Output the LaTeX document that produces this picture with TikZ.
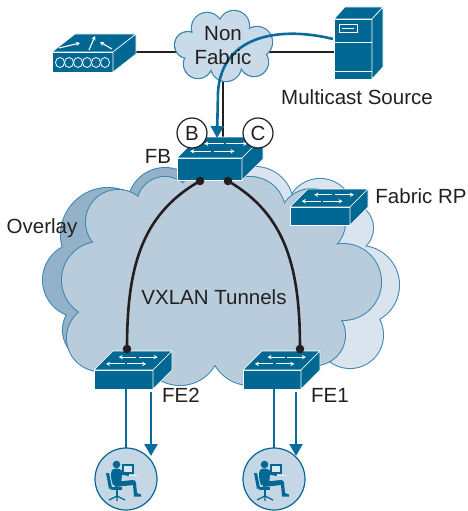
\documentclass[tikz,border=0pt]{standalone}
\usepackage{fontspec}
\setmainfont{Liberation Sans}
\usetikzlibrary{arrows.meta}

\definecolor{icon}{HTML}{006892}
\definecolor{flow}{HTML}{0A6C9C}
\definecolor{cloudedge}{HTML}{3A86B0}
\definecolor{nfFill}{HTML}{C9DAE8}
\definecolor{ovMain}{HTML}{B9CCDC}
\definecolor{ovDark}{HTML}{93B2C9}
\definecolor{ovLight}{HTML}{D9E4EE}
\definecolor{userFill}{HTML}{C5D6E4}
\definecolor{ink}{HTML}{231F20}

% cloud made of bumps: outline pass, then fill pass (fill, edge colour, edge width, bumps x/y/r, inner polygon)
\newcommand{\cloudlayer}[5]{%
  \foreach \cx/\cy/\cr in {#4} {\fill[#2] (\cx,\cy) circle[radius=\cr+#3];}
  \foreach \cx/\cy/\cr in {#4} {\fill[#1] (\cx,\cy) circle[radius=\cr];}
  \fill[#1] #5;}

% 3D icon block: front top-left corner (x,y), width, height, depth offset dx, dy
\newcommand{\iconbox}[6]{%
  \begin{scope}[shift={(#1,#2)}]
    \filldraw[boxface] (0,0) rectangle (#3,#4);
    \filldraw[boxface] (0,0) -- (#5,-#6) -- ({#3+#5},-#6) -- (#3,0) -- cycle;
    \filldraw[boxface] (#3,0) -- ({#3+#5},-#6) -- ({#3+#5},{#4-#6}) -- (#3,#4) -- cycle;
  \end{scope}}

% workgroup switch: x, y, width, height, depth
\newcommand{\ciscoswitch}[5]{%
  \iconbox{#1}{#2}{#3}{#4}{#5}{#5}
  \begin{scope}[shift={(#1,#2)}]
    \draw[toparrow] ({0.50*#3+0.68*#5},-0.68*#5) -- ({0.20*#3+0.68*#5},-0.68*#5);
    \draw[toparrow] ({0.54*#3+0.68*#5},-0.68*#5) -- ({0.86*#3+0.68*#5},-0.68*#5);
    \draw[toparrow] ({0.42*#3+0.32*#5},-0.32*#5) -- ({0.10*#3+0.32*#5},-0.32*#5);
    \draw[toparrow] ({0.46*#3+0.32*#5},-0.32*#5) -- ({0.78*#3+0.32*#5},-0.32*#5);
  \end{scope}}

% end user at a workstation, centred at (x,y)
\newcommand{\usericon}[2]{%
  \begin{scope}[shift={(#1,#2)}]
    \filldraw[fill=userFill, draw=icon, line width=1.2pt] (0,0) circle (31);
    \fill[icon] (-4,-15) rectangle (8,-5);
    \fill[userFill!60!white] (-2.2,-13.3) rectangle (6.3,-6.7);
    \fill[icon] (1,-5) rectangle (3,-3.5);
    \draw[white, line width=0.8pt, dash pattern=on 1.5pt off 1pt] (-7,-3.2) -- (12,-3.2);
    \fill[icon] (-9.5,-14.5) circle (3.8);
    \fill[icon] (-14,-9) .. controls (-12,-11) and (-7,-11) .. (-5,-9) -- (2,-5) -- (3,-3)
      -- (-4,-4) -- (-5,5) -- (-13,6) .. controls (-15,0) and (-16,-5) .. cycle;
    \fill[icon] (-12,3) -- (7,1) .. controls (9,1) and (10,2) .. (10,4) -- (11,14)
      -- (15,15.5) -- (15,17.5) -- (8,17.5) -- (7,6) -- (-11,8) -- cycle;
    \fill[icon] (-15,8) rectangle (-4,10.5);
    \fill[icon] (-20,-6) -- (-17,-6) -- (-14,9) -- (-17,10) -- cycle;
    \draw[icon, line width=1.5pt] (-9,10) -- (-9,17);
    \draw[icon, line width=1.2pt] (-17,21) -- (-9,17) -- (-1,21) (-9,17) -- (-9,22);
  \end{scope}}

\begin{document}
\begin{tikzpicture}[x=1pt,y=-1pt,
  lbl/.style={font=\fontsize{20.5}{24}\selectfont, text=ink, inner sep=0pt,
    text height=14.7pt, text depth=0pt},
  boxface/.style={fill=icon, draw=white, line width=0.6pt, line join=round},
  toparrow/.style={draw=white, line width=1.1pt, -{Stealth[length=4pt,width=4.4pt]}},
  link/.style={draw=ink, line width=1.3pt},
  tunnel/.style={draw=ink, line width=2.6pt},
  flowline/.style={draw=flow, line width=2.6pt},
  flowarrow/.style={flowline, -{Triangle[length=12pt,width=13pt]}},
  tag/.style={circle, draw=ink, line width=1.2pt, fill=white, minimum size=30pt,
    inner sep=0pt, font=\fontsize{20.5}{24}\selectfont, text=ink}]

\useasboundingbox (0,0) rectangle (468,511);

% ---- anchor points ----
\coordinate (wlcR) at (136,52);
\coordinate (srvL) at (334,52);
\coordinate (nfB)  at (223,75);
\coordinate (fbT)  at (223,140);
\coordinate (srcOut) at (333,39);
\coordinate (fbIn) at (217,138);
\coordinate (fbL)  at (200,181);
\coordinate (fbR)  at (228,181);
\coordinate (fe2T) at (127,349);
\coordinate (fe1T) at (300,349);
\coordinate (fe2D) at (126,389);
\coordinate (fe2U) at (126,448);
\coordinate (fe2A) at (151,392);
\coordinate (fe2E) at (151,456);
\coordinate (fe1D) at (274,389);
\coordinate (fe1U) at (274,448);
\coordinate (fe1A) at (296,392);
\coordinate (fe1E) at (296,456);

% ---- underlay links ----
\draw[link] (wlcR) -- (srvL);
\draw[link] (nfB) -- (fbT);

% ---- non-fabric cloud ----
\cloudlayer{nfFill}{cloudedge}{1.2}
  {207/28/15, 234/26/15, 257/42/15, 254/62/14, 226/66/15, 198/64/14, 188/45/13}
  {(207,28) -- (234,26) -- (257,42) -- (254,62) -- (226,66) -- (198,64) -- (188,45) -- cycle}

% ---- wireless controller ----
\iconbox{52}{52}{61}{20}{23}{18}
\draw[toparrow] (59,48) -- (80,43);
\draw[toparrow] (89,50) -- (95,36);
\draw[toparrow] (112,49) -- (100,42);
\foreach \ex in {60,69,78,87,96,105}
  \draw[white, line width=0.8pt] (\ex,62.5) ellipse[x radius=4.5, y radius=5];

% ---- multicast source server ----
\iconbox{334}{19}{38}{60}{11}{12}
\draw[white, line width=0.7pt] (339,24) rectangle (357,32);
\draw[white, line width=0.7pt] (342,28) -- (354,28);
\draw[white, line width=0.8pt] (334,42) -- (372,42) (334,71) -- (372,71);

% ---- overlay cloud, three layers ----
\cloudlayer{ovDark}{cloudedge}{1}
  {165/205/37, 108/235/47, 80/280/37, 95/330/32, 140/330/30}
  {(165,205) -- (108,235) -- (80,280) -- (95,330) -- (140,330) -- cycle}
\cloudlayer{ovLight}{cloudedge}{1}
  {255/205/38, 320/212/33, 348/228/25, 360/285/39, 350/335/33, 300/350/25}
  {(255,205) -- (320,212) -- (348,228) -- (360,285) -- (350,335) -- (300,350) -- cycle}
\cloudlayer{ovMain}{cloudedge}{1}
  {118/222/32, 165/205/28, 215/215/45, 250/212/35, 312/222/33, 343/282/38, 315/335/30,
   250/345/40, 180/345/40, 140/350/30, 100/338/33, 100/280/38}
  {(118,222) -- (165,205) -- (215,215) -- (250,212) -- (312,222) -- (343,282) -- (315,335)
   -- (250,345) -- (180,345) -- (140,350) -- (100,338) -- (100,280) -- cycle}

% ---- switches ----
\ciscoswitch{290}{207}{60}{18}{18}
\ciscoswitch{177}{158}{65}{22}{21}
\ciscoswitch{94}{370}{59}{19}{19}
\ciscoswitch{243}{370}{58}{19}{19}

% ---- VXLAN tunnels ----
\draw[tunnel] (fbL) .. controls (140,215) and (127,270) .. (fe2T);
\draw[tunnel] (fbR) .. controls (287,215) and (300,270) .. (fe1T);
\foreach \p in {fbL,fbR,fe2T,fe1T} \fill[ink] (\p) circle (4.3);

% ---- border tags ----
\node[tag] (tagB) at (192,133) {B};
\node[tag] (tagC) at (258,133) {C};

% ---- multicast flow ----
\draw[flowarrow] (srcOut) .. controls (285,27) and (222,32) .. (218,92) -- (fbIn);
\draw[flowline] (fe2D) -- (fe2U);
\draw[flowarrow] (fe2A) -- (fe2E);
\draw[flowline] (fe1D) -- (fe1U);
\draw[flowarrow] (fe1A) -- (fe1E);

% ---- receivers ----
\usericon{126}{479}
\usericon{274}{479}

% ---- labels ----
\node[lbl] (nf1) at (223,33) {Non};
\node[lbl] (nf2) at (223,57) {Fabric};
\node[lbl] (ms) at (357,97) {Multicast Source};
\node[lbl] (fbl) at (158,156) {FB};
\node[lbl] (rpl) at (421,196) {Fabric RP};
\node[lbl] (ovl) at (42,226) {Overlay};
\node[lbl] (vx) at (214,297) {VXLAN Tunnels};
\node[lbl] (fe2l) at (181,395) {FE2};
\node[lbl] (fe1l) at (330,395) {FE1};
\end{tikzpicture}
\end{document}
